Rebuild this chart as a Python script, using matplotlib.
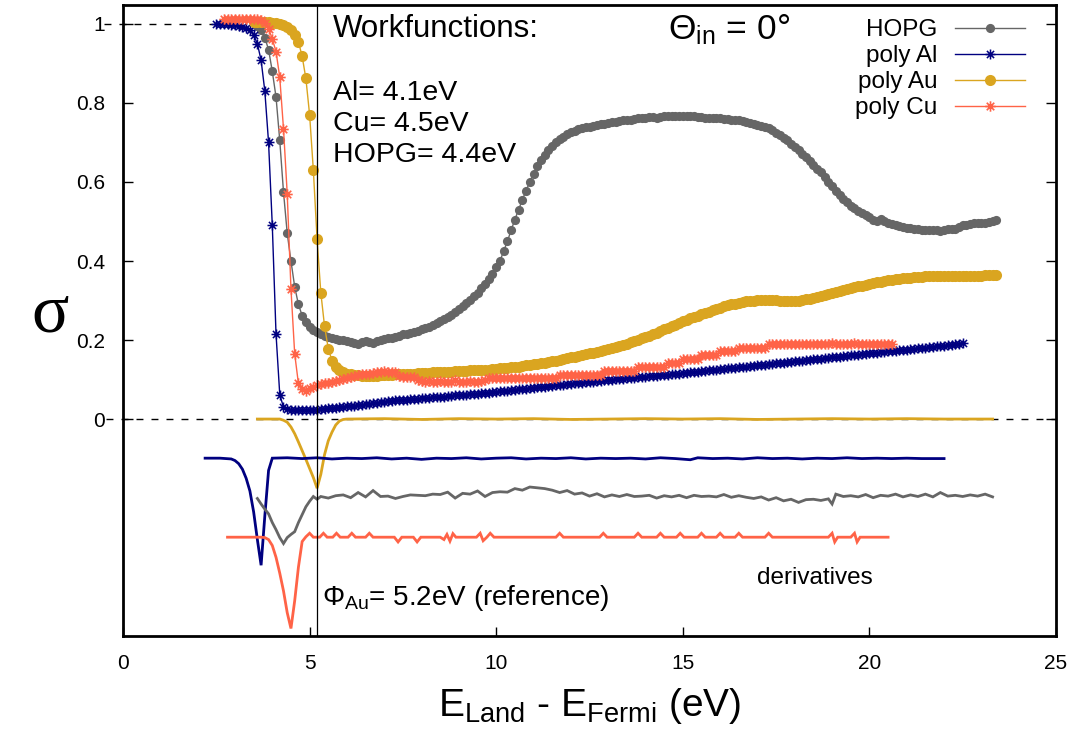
import numpy as np
import matplotlib
matplotlib.use("Agg")
import matplotlib.pyplot as plt
from matplotlib.path import Path

plt.rcParams['font.family'] = ['Liberation Sans', 'DejaVu Sans']
plt.rcParams['mathtext.fontset'] = 'custom'
plt.rcParams['mathtext.rm'] = 'Liberation Sans'
plt.rcParams['mathtext.it'] = 'Liberation Sans:italic'
plt.rcParams['mathtext.bf'] = 'Liberation Sans:bold'
plt.rcParams['lines.scale_dashes'] = False

# ---------------------------------------------------------------------------
# Secondary-electron yield sigma versus landing energy (eV above E_Fermi)
# ---------------------------------------------------------------------------

# poly Al, 0.1 eV grid starting at 2.5 eV
al_start, al_step = 2.5, 0.1
al_sigma = [
    1.000, 1.000, 0.999, 0.999, 0.998, 0.997, 0.995, 0.993, 0.990, 0.985,  # 2.5
    0.972, 0.950, 0.908, 0.830, 0.700, 0.490, 0.215, 0.062, 0.030, 0.025,  # 3.5
    0.023, 0.022, 0.022, 0.022, 0.022, 0.023, 0.023, 0.024, 0.025, 0.026,  # 4.5
    0.027, 0.028, 0.029, 0.030, 0.031, 0.032, 0.033, 0.034, 0.035, 0.036,  # 5.5
    0.037, 0.038, 0.040, 0.041, 0.043, 0.044, 0.045, 0.046, 0.047, 0.047,  # 6.5
    0.048, 0.049, 0.050, 0.051, 0.052, 0.053, 0.053, 0.054, 0.055, 0.056,  # 7.5
    0.057, 0.057, 0.058, 0.059, 0.060, 0.061, 0.061, 0.062, 0.063, 0.064,  # 8.5
    0.064, 0.065, 0.066, 0.067, 0.068, 0.069, 0.070, 0.071, 0.072, 0.073,  # 9.5
    0.074, 0.075, 0.076, 0.077, 0.078, 0.079, 0.080, 0.081, 0.082, 0.083,  # 10.5
    0.084, 0.085, 0.086, 0.087, 0.088, 0.089, 0.090, 0.091, 0.092, 0.093,  # 11.5
    0.094, 0.095, 0.096, 0.097, 0.098, 0.099, 0.100, 0.101, 0.102, 0.102,  # 12.5
    0.103, 0.104, 0.105, 0.106, 0.107, 0.107, 0.108, 0.109, 0.110, 0.111,  # 13.5
    0.111, 0.112, 0.113, 0.114, 0.115, 0.116, 0.117, 0.118, 0.119, 0.120,  # 14.5
    0.121, 0.122, 0.123, 0.124, 0.125, 0.126, 0.127, 0.128, 0.129, 0.130,  # 15.5
    0.131, 0.132, 0.133, 0.134, 0.135, 0.136, 0.137, 0.138, 0.139, 0.140,  # 16.5
    0.141, 0.142, 0.143, 0.144, 0.145, 0.146, 0.147, 0.148, 0.149, 0.150,  # 17.5
    0.151, 0.152, 0.153, 0.154, 0.155, 0.156, 0.157, 0.158, 0.159, 0.160,  # 18.5
    0.161, 0.162, 0.163, 0.164, 0.165, 0.166, 0.167, 0.168, 0.169, 0.170,  # 19.5
    0.171, 0.172, 0.173, 0.174, 0.175, 0.176, 0.177, 0.178, 0.179, 0.180,  # 20.5
    0.181, 0.182, 0.183, 0.184, 0.185, 0.186, 0.187, 0.188, 0.189, 0.191,  # 21.5
    0.193,                                                                 # 22.5
]

# poly Au, 0.1 eV grid starting at 3.5 eV
au_start, au_step = 3.5, 0.1
au_sigma = [
    1.004, 1.004, 1.004, 1.004, 1.004, 1.003, 1.002, 1.000, 0.997, 0.992,  # 3.5
    0.984, 0.972, 0.955, 0.918, 0.862, 0.770, 0.630, 0.455, 0.320, 0.235,  # 4.5
    0.178, 0.148, 0.131, 0.123, 0.118, 0.115, 0.113, 0.112, 0.111, 0.110,  # 5.5
    0.110, 0.110, 0.110, 0.110, 0.111, 0.111, 0.112, 0.112, 0.113, 0.113,  # 6.5
    0.114, 0.114, 0.115, 0.115, 0.116, 0.116, 0.117, 0.117, 0.118, 0.118,  # 7.5
    0.119, 0.119, 0.120, 0.120, 0.121, 0.121, 0.122, 0.122, 0.123, 0.123,  # 8.5
    0.124, 0.124, 0.125, 0.125, 0.126, 0.127, 0.128, 0.129, 0.130, 0.131,  # 9.5
    0.132, 0.133, 0.135, 0.136, 0.138, 0.139, 0.140, 0.142, 0.143, 0.145,  # 10.5
    0.146, 0.148, 0.150, 0.152, 0.154, 0.156, 0.158, 0.160, 0.162, 0.164,  # 11.5
    0.166, 0.168, 0.170, 0.172, 0.175, 0.177, 0.180, 0.182, 0.185, 0.188,  # 12.5
    0.191, 0.194, 0.197, 0.200, 0.204, 0.207, 0.211, 0.215, 0.219, 0.223,  # 13.5
    0.227, 0.231, 0.235, 0.239, 0.243, 0.247, 0.251, 0.255, 0.258, 0.262,  # 14.5
    0.266, 0.269, 0.272, 0.275, 0.279, 0.282, 0.285, 0.288, 0.290, 0.292,  # 15.5
    0.294, 0.296, 0.298, 0.299, 0.300, 0.301, 0.301, 0.302, 0.302, 0.301,  # 16.5
    0.301, 0.300, 0.300, 0.299, 0.299, 0.299, 0.300, 0.301, 0.303, 0.305,  # 17.5
    0.307, 0.310, 0.312, 0.315, 0.317, 0.320, 0.322, 0.325, 0.327, 0.330,  # 18.5
    0.332, 0.334, 0.336, 0.338, 0.340, 0.342, 0.344, 0.346, 0.348, 0.350,  # 19.5
    0.351, 0.353, 0.354, 0.355, 0.356, 0.357, 0.358, 0.359, 0.360, 0.360,  # 20.5
    0.361, 0.361, 0.361, 0.361, 0.362, 0.362, 0.362, 0.362, 0.362, 0.362,  # 21.5
    0.362, 0.363, 0.363, 0.363, 0.363, 0.363, 0.364, 0.364, 0.364, 0.365,  # 22.5
]

# poly Cu, 0.1 eV grid starting at 2.7 eV
cu_start, cu_step = 2.7, 0.1
cu_sigma = [
    1.012, 1.012, 1.012, 1.012, 1.012, 1.012, 1.012, 1.012, 1.012, 1.012,  # 2.7
    1.010, 1.002, 0.988, 0.962, 0.930, 0.865, 0.735, 0.570, 0.330, 0.165,  # 3.7
    0.090, 0.075, 0.072, 0.078, 0.082, 0.085, 0.088, 0.090, 0.092, 0.094,  # 4.7
    0.096, 0.099, 0.101, 0.104, 0.106, 0.109, 0.111, 0.113, 0.114, 0.115,  # 5.7
    0.116, 0.118, 0.120, 0.121, 0.120, 0.120, 0.118, 0.108, 0.107, 0.107,  # 6.7
    0.107, 0.106, 0.099, 0.097, 0.094, 0.097, 0.094, 0.094, 0.097, 0.094,  # 7.7
    0.094, 0.094, 0.098, 0.094, 0.094, 0.095, 0.097, 0.094, 0.094, 0.096,  # 8.7
    0.099, 0.104, 0.104, 0.104, 0.104, 0.104, 0.104, 0.104, 0.104, 0.104,  # 9.7
    0.104, 0.104, 0.104, 0.104, 0.104, 0.104, 0.104, 0.104, 0.104, 0.104,  # 10.7
    0.111, 0.111, 0.111, 0.111, 0.111, 0.111, 0.111, 0.111, 0.111, 0.111,  # 11.7
    0.111, 0.111, 0.122, 0.122, 0.122, 0.122, 0.122, 0.122, 0.122, 0.122,  # 12.7
    0.122, 0.132, 0.132, 0.132, 0.132, 0.132, 0.132, 0.132, 0.132, 0.143,  # 13.7
    0.143, 0.143, 0.143, 0.151, 0.151, 0.151, 0.151, 0.151, 0.161, 0.161,  # 14.7
    0.161, 0.161, 0.161, 0.172, 0.172, 0.172, 0.172, 0.172, 0.181, 0.181,  # 15.7
    0.181, 0.181, 0.181, 0.181, 0.181, 0.181, 0.190, 0.190, 0.190, 0.190,  # 16.7
    0.190, 0.190, 0.190, 0.190, 0.190, 0.190, 0.190, 0.190, 0.190, 0.190,  # 17.7
    0.190, 0.190, 0.190, 0.193, 0.190, 0.190, 0.190, 0.190, 0.190, 0.193,  # 18.7
    0.190, 0.190, 0.190, 0.190, 0.190, 0.190, 0.190, 0.190, 0.190, 0.190,  # 19.7
]

# HOPG, 0.1 eV grid starting at 3.6 eV
hopg_start, hopg_step = 3.6, 0.1
hopg_sigma = [
    0.995, 0.985, 0.965, 0.935, 0.880, 0.815, 0.705, 0.575, 0.470, 0.400,  # 3.6
    0.335, 0.290, 0.262, 0.245, 0.232, 0.226, 0.221, 0.216, 0.211, 0.207,  # 4.6
    0.204, 0.202, 0.200, 0.199, 0.197, 0.195, 0.192, 0.190, 0.194, 0.197,  # 5.6
    0.194, 0.192, 0.197, 0.200, 0.202, 0.204, 0.206, 0.208, 0.211, 0.214,  # 6.6
    0.216, 0.218, 0.221, 0.224, 0.227, 0.230, 0.234, 0.238, 0.243, 0.247,  # 7.6
    0.252, 0.258, 0.264, 0.270, 0.278, 0.286, 0.294, 0.302, 0.311, 0.320,  # 8.6
    0.331, 0.342, 0.355, 0.368, 0.384, 0.400, 0.425, 0.450, 0.478, 0.505,  # 9.6
    0.530, 0.555, 0.578, 0.600, 0.620, 0.640, 0.655, 0.668, 0.680, 0.690,  # 10.6
    0.700, 0.708, 0.715, 0.721, 0.726, 0.730, 0.733, 0.736, 0.738, 0.740,  # 11.6
    0.742, 0.744, 0.746, 0.748, 0.750, 0.751, 0.752, 0.754, 0.756, 0.757,  # 12.6
    0.758, 0.760, 0.761, 0.762, 0.763, 0.764, 0.764, 0.763, 0.765, 0.766,  # 13.6
    0.766, 0.767, 0.767, 0.768, 0.768, 0.767, 0.767, 0.766, 0.765, 0.764,  # 14.6
    0.763, 0.762, 0.762, 0.763, 0.761, 0.760, 0.759, 0.758, 0.757, 0.756,  # 15.6
    0.754, 0.752, 0.750, 0.748, 0.745, 0.742, 0.740, 0.737, 0.731, 0.725,  # 16.6
    0.719, 0.712, 0.705, 0.697, 0.689, 0.680, 0.671, 0.662, 0.652, 0.643,  # 17.6
    0.634, 0.625, 0.612, 0.600, 0.589, 0.578, 0.568, 0.558, 0.549, 0.540,  # 18.6
    0.533, 0.527, 0.522, 0.517, 0.511, 0.505, 0.500, 0.507, 0.501, 0.496,  # 19.6
    0.493, 0.490, 0.488, 0.486, 0.484, 0.483, 0.481, 0.480, 0.479, 0.478,  # 20.6
    0.478, 0.479, 0.478, 0.477, 0.478, 0.480, 0.481, 0.482, 0.486, 0.490,  # 21.6
    0.492, 0.494, 0.495, 0.495, 0.496, 0.497, 0.499, 0.500, 0.503,         # 22.6
]

# Derivative traces (scaled and shifted below zero), (energy, value) pairs
au_deriv = [
    (3.6, 0.000), (4.2, 0.000), (4.3, -0.003), (4.4, -0.008), (4.5, -0.020),
    (4.6, -0.037), (4.7, -0.058), (4.8, -0.080), (4.9, -0.102), (5.0, -0.125),
    (5.1, -0.148), (5.2, -0.175), (5.3, -0.140), (5.4, -0.090), (5.5, -0.055),
    (5.6, -0.033), (5.7, -0.015), (5.8, -0.005), (5.9, -0.001), (6.0, 0.000),
    (7.0, 0.001), (8.0, -0.001), (9.0, 0.001), (10.0, 0.000), (11.0, 0.001),
    (12.0, -0.001), (13.0, 0.000), (14.0, 0.001), (15.0, 0.000), (16.0, 0.001),
    (17.0, -0.001), (18.0, 0.000), (19.0, 0.001), (20.0, 0.000), (21.0, 0.001),
    (22.0, 0.000), (23.3, 0.000),
]
al_deriv = [
    (2.2, -0.099), (2.6, -0.099), (2.9, -0.101), (3.0, -0.105), (3.1, -0.113),
    (3.2, -0.127), (3.3, -0.150), (3.4, -0.182), (3.5, -0.235), (3.6, -0.305),
    (3.7, -0.370), (3.8, -0.245), (3.9, -0.130), (4.0, -0.099), (4.4, -0.098),
    (4.8, -0.100), (5.2, -0.098), (5.6, -0.101), (6.0, -0.099), (6.4, -0.100),
    (6.8, -0.098), (7.2, -0.101), (7.6, -0.099), (8.0, -0.102), (8.4, -0.099),
    (8.8, -0.100), (9.2, -0.098), (9.6, -0.101), (10.0, -0.099), (10.4, -0.098),
    (10.8, -0.101), (11.2, -0.099), (11.6, -0.100), (12.0, -0.098), (12.4, -0.101),
    (12.8, -0.099), (13.2, -0.100), (13.6, -0.099), (14.0, -0.101), (14.4, -0.098),
    (14.8, -0.100), (15.2, -0.103), (15.4, -0.098), (15.8, -0.100), (16.2, -0.099),
    (16.6, -0.101), (17.0, -0.098), (17.4, -0.100), (17.8, -0.099), (18.2, -0.101),
    (18.6, -0.099), (19.0, -0.100), (19.4, -0.098), (19.8, -0.100), (20.2, -0.099),
    (20.6, -0.100), (21.0, -0.099), (21.4, -0.100), (22.0, -0.100),
]
hopg_deriv = [
    (3.6, -0.201), (3.7, -0.215), (3.8, -0.228), (3.9, -0.240), (4.0, -0.262),
    (4.1, -0.280), (4.2, -0.300), (4.3, -0.315), (4.4, -0.300), (4.5, -0.292),
    (4.6, -0.285), (4.7, -0.262), (4.8, -0.242), (4.9, -0.222), (5.0, -0.208),
    (5.1, -0.196), (5.2, -0.203), (5.3, -0.196), (5.5, -0.200), (5.7, -0.194),
    (5.9, -0.192), (6.1, -0.199), (6.3, -0.186), (6.5, -0.197), (6.7, -0.181),
    (6.9, -0.196), (7.1, -0.195), (7.3, -0.201), (7.5, -0.196), (7.7, -0.192),
    (7.9, -0.193), (8.1, -0.194), (8.3, -0.190), (8.5, -0.191), (8.7, -0.185),
    (8.9, -0.200), (9.1, -0.188), (9.3, -0.190), (9.5, -0.182), (9.7, -0.196),
    (9.9, -0.186), (10.1, -0.184), (10.3, -0.185), (10.5, -0.176), (10.7, -0.180),
    (10.9, -0.172), (11.1, -0.174), (11.3, -0.176), (11.5, -0.180), (11.7, -0.186),
    (11.9, -0.181), (12.1, -0.190), (12.3, -0.187), (12.5, -0.195), (12.7, -0.189),
    (12.9, -0.197), (13.1, -0.192), (13.3, -0.196), (13.5, -0.191), (13.7, -0.196),
    (13.9, -0.195), (14.1, -0.193), (14.3, -0.200), (14.5, -0.194), (14.7, -0.197),
    (14.9, -0.193), (15.1, -0.199), (15.3, -0.193), (15.5, -0.196), (15.7, -0.195),
    (15.9, -0.197), (16.1, -0.191), (16.3, -0.198), (16.5, -0.194), (16.7, -0.198),
    (16.9, -0.201), (17.1, -0.197), (17.3, -0.205), (17.5, -0.199), (17.7, -0.207),
    (17.9, -0.203), (18.1, -0.211), (18.3, -0.204), (18.5, -0.203), (18.7, -0.206),
    (18.9, -0.202), (19.0, -0.215), (19.1, -0.190), (19.3, -0.196), (19.5, -0.194),
    (19.7, -0.197), (19.9, -0.191), (20.1, -0.199), (20.3, -0.193), (20.5, -0.195),
    (20.7, -0.190), (20.9, -0.197), (21.1, -0.192), (21.3, -0.196), (21.5, -0.190),
    (21.7, -0.197), (21.9, -0.186), (22.1, -0.195), (22.3, -0.193), (22.5, -0.196),
    (22.7, -0.192), (22.9, -0.195), (23.1, -0.190), (23.3, -0.197),
]
cu_deriv = [
    (2.8, -0.299), (3.7, -0.299), (3.8, -0.300), (3.9, -0.305), (4.0, -0.320),
    (4.1, -0.350), (4.2, -0.390), (4.3, -0.435), (4.4, -0.490), (4.5, -0.530),
    (4.6, -0.460), (4.7, -0.375), (4.8, -0.310), (4.9, -0.298), (5.0, -0.289),
    (5.1, -0.299), (5.27, -0.299), (5.37, -0.289), (5.47, -0.299), (5.62, -0.299),
    (5.72, -0.289), (5.82, -0.299), (6.03, -0.299), (6.13, -0.289), (6.23, -0.299),
    (6.5, -0.299), (6.6, -0.289), (6.7, -0.299), (7.27, -0.299), (7.37, -0.311),
    (7.47, -0.299), (7.78, -0.299), (7.88, -0.311), (7.98, -0.299), (8.5, -0.299),
    (8.6, -0.305), (8.68, -0.292), (8.76, -0.309), (8.84, -0.290), (8.92, -0.299),
    (9.47, -0.299), (9.57, -0.289), (9.65, -0.308), (9.75, -0.299), (9.84, -0.289),
    (9.94, -0.299), (11.6, -0.299), (11.7, -0.289), (11.8, -0.299), (12.77, -0.299),
    (12.87, -0.289), (12.97, -0.299), (13.7, -0.299), (13.8, -0.289), (13.9, -0.299),
    (14.3, -0.299), (14.4, -0.289), (14.5, -0.299), (14.83, -0.299), (14.93, -0.289),
    (15.03, -0.299), (15.4, -0.299), (15.5, -0.289), (15.6, -0.299), (15.9, -0.299),
    (16.0, -0.289), (16.1, -0.299), (16.4, -0.299), (16.5, -0.289), (16.6, -0.299),
    (17.2, -0.299), (17.3, -0.289), (17.4, -0.299), (18.9, -0.299), (19.0, -0.289),
    (19.07, -0.311), (19.15, -0.299), (19.5, -0.299), (19.6, -0.289), (19.67, -0.311),
    (19.75, -0.299), (20.5, -0.299),
]

series_labels = ['HOPG', 'poly Al', 'poly Au', 'poly Cu']
workfunction_lines = ['Al= 4.1eV', 'Cu= 4.5eV', 'HOPG= 4.4eV']
phi_au = 5.2

xticks = [0, 5, 10, 15, 20, 25]
yticks = [0, 0.2, 0.4, 0.6, 0.8, 1]
ytick_labels = ['0', '0.2', '0.4', '0.6', '0.8', '1']

C_HOPG = '#666666'
C_AL = '#000080'
C_AU = '#daa520'
C_CU = '#ff6347'


def grid(start, step, values):
    return start + step * np.arange(len(values))


def split(pairs):
    arr = np.array(pairs)
    return arr[:, 0], arr[:, 1]


# gnuplot-style asterisk: a plus overlaid with a cross
asterisk = Path([(-1, 0), (1, 0), (0, -1), (0, 1),
                 (-0.72, -0.72), (0.72, 0.72), (-0.72, 0.72), (0.72, -0.72)],
                [Path.MOVETO, Path.LINETO] * 4)

fig = plt.figure(figsize=(10.8, 7.3), dpi=100)
ax = fig.add_axes([0.1139, 0.1288, 0.8639, 0.8644])

# reference levels
dash = (0, (5.0, 5.8))
ax.plot([-0.5, 2.5], [1, 1], color='black', lw=1.0, ls=dash, clip_on=False, zorder=1)
ax.plot([-0.45, 25], [0, 0], color='black', lw=1.0, ls=dash, clip_on=False, zorder=1)

ax.plot(grid(hopg_start, hopg_step, hopg_sigma), hopg_sigma, color=C_HOPG, lw=1.0,
        marker='o', ms=6.6, mec='none', label=series_labels[0], zorder=3)
ax.plot(grid(al_start, al_step, al_sigma), al_sigma, color=C_AL, lw=1.0,
        marker=asterisk, ms=7.2, mew=1.1, mfc='none', label=series_labels[1], zorder=3)
ax.plot(grid(au_start, au_step, au_sigma), au_sigma, color=C_AU, lw=1.0,
        marker='o', ms=8.0, mec='none', label=series_labels[2], zorder=3)
ax.plot(grid(cu_start, cu_step, cu_sigma), cu_sigma, color=C_CU, lw=1.0,
        marker=asterisk, ms=7.5, mew=1.2, mfc='none', label=series_labels[3], zorder=3)

# derivative traces
for pairs, col in [(au_deriv, C_AU), (al_deriv, C_AL), (hopg_deriv, C_HOPG), (cu_deriv, C_CU)]:
    dx, dy = split(pairs)
    ax.plot(dx, dy, color=col, lw=2.0, solid_joinstyle='miter', zorder=2)

# gold work function marker
ax.axvline(phi_au, color='black', lw=0.9, zorder=5)

ax.set_xlim(0, 25)
ax.set_ylim(-0.549, 1.048)
ax.set_xticks(xticks)
ax.set_xticklabels([str(t) for t in xticks])
ax.set_yticks(yticks)
ax.set_yticklabels(ytick_labels)
ax.tick_params(axis='both', direction='in', labelsize=15, width=1.0, colors='black')
ax.tick_params(axis='y', length=7, right=True, pad=13)
ax.tick_params(axis='x', length=6.5, top=False, pad=13)
for sp in ax.spines.values():
    sp.set_linewidth(2.0)

# annotations
ax.text(5.63, 0.967, 'Workfunctions:', fontsize=22.5, ha='left', va='baseline')
for txt, yb in zip(workfunction_lines, [0.808, 0.729, 0.651]):
    ax.text(5.63, yb, txt, fontsize=20.5, ha='left', va='baseline')
ax.text(14.6, 0.96, 'Θ$_{\\mathrm{in}}$ = 0°', fontsize=25.5, ha='left', va='baseline')
ax.text(5.33, -0.471, 'Φ$_{\\mathrm{Au}}$= 5.2eV (reference)', fontsize=20,
        ha='left', va='baseline')
ax.text(17.0, -0.418, 'derivatives', fontsize=17.5, ha='left', va='baseline')

ax.text(-0.078, 0.482, 'σ', transform=ax.transAxes, fontsize=50,
        family='Liberation Serif', ha='center', va='baseline')
ax.set_xlabel('E$_{\\mathrm{Land}}$ - E$_{\\mathrm{Fermi}}$ (eV)', fontsize=28)
ax.xaxis.label.set_va('baseline')
ax.xaxis.set_label_coords(0.5, -0.127)

leg = ax.legend(loc='upper right', bbox_to_anchor=(0.967, 0.977), frameon=False,
                markerfirst=False, fontsize=17.5, handlelength=2.9,
                handletextpad=0.7, labelspacing=0.16, borderaxespad=0, borderpad=0)

fig.savefig('out.png', dpi=100)
